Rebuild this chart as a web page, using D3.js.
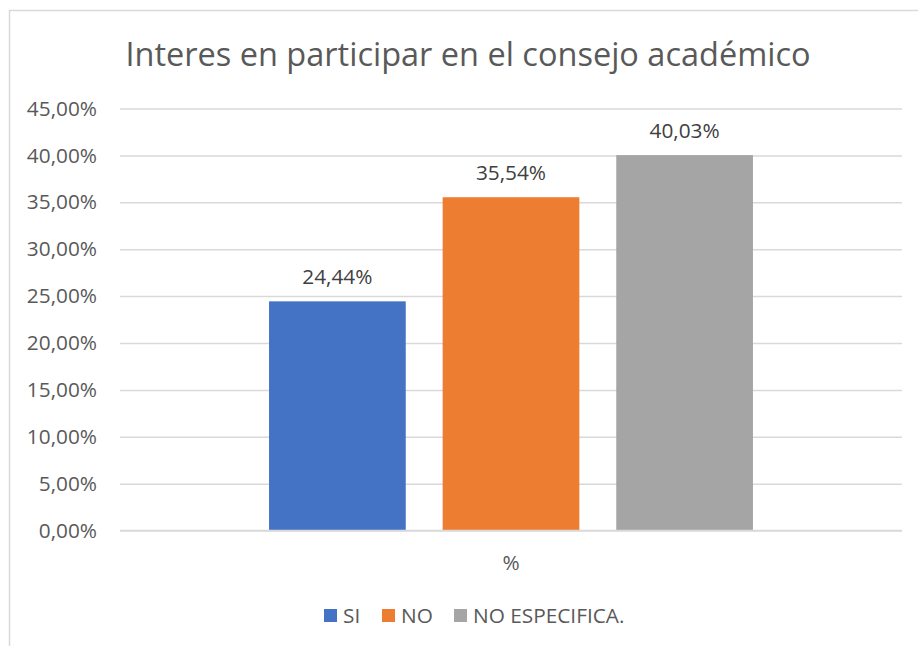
<!DOCTYPE html>
<html lang="es">
<head>
  <meta charset="UTF-8">
  <title>Interes en participar en el consejo académico</title>
  <script src="https://cdn.jsdelivr.net/npm/d3@7"></script>
  <style>
    body { margin: 0; background: #fff; }
    svg { display: block; font-family: "Open Sans", sans-serif; }
  </style>
</head>
<body>
  <div id="chart"></div>
  <script>
    // chart data
    const categories = ['%'];
    const seriesNames = ['SI', 'NO', 'NO ESPECIFICA.'];
    const seriesValues = [0.2444, 0.3554, 0.4003];
    const seriesColors = ['#4472c4', '#ed7d31', '#a5a5a5'];
    const yTicks = [0, 0.05, 0.10, 0.15, 0.20, 0.25, 0.30, 0.35, 0.40, 0.45];

    const width = 918, height = 646;
    const plot = { left: 120, right: 902, top: 108.5, bottom: 530.6 };

    const pct = d => d3.format('.2f')(d * 100).replace('.', ',') + '%';

    const svg = d3.select('#chart')
      .append('svg')
        .attr('width', width)
        .attr('height', height);

    // outer border
    svg.append('rect')
      .attr('x', 9.5).attr('y', 10.5)
      .attr('width', 940).attr('height', 660)
      .attr('fill', '#fff')
      .attr('stroke', '#d9d9d9')
      .attr('stroke-width', 1.5);

    // title
    svg.append('text')
      .attr('x', 468).attr('y', 66)
      .attr('text-anchor', 'middle')
      .attr('fill', '#595959')
      .style('font-size', '32.5px')
      .text('Interes en participar en el consejo académico');

    const y = d3.scaleLinear().domain([0, 0.45]).range([plot.bottom, plot.top]);

    const x0 = d3.scaleBand()
      .domain(categories)
      .range([plot.left, plot.right])
      .paddingInner(0)
      .paddingOuter(0.308);

    const x1 = d3.scaleBand()
      .domain(seriesNames)
      .range([0, x0.bandwidth()])
      .paddingInner(0.2126)
      .paddingOuter(0);

    // gridlines + y labels
    const yAxis = d3.axisLeft(y)
      .tickValues(yTicks)
      .tickFormat(pct)
      .tickSize(plot.right - plot.left)
      .tickPadding(23);

    const gy = svg.append('g')
      .attr('transform', `translate(${plot.right},0)`)
      .call(yAxis);
    gy.select('.domain').remove();
    gy.selectAll('.tick line')
      .attr('stroke', '#d9d9d9')
      .attr('stroke-width', 1.5);
    gy.selectAll('.tick text')
      .attr('fill', '#595959')
      .style('font-size', '20.8px')
      .style('font-family', '"Open Sans", sans-serif');

    // bars
    const rows = seriesNames.map((name, i) => ({ name, value: seriesValues[i], color: seriesColors[i], cat: categories[0] }));

    const g = svg.append('g');
    g.selectAll('rect')
      .data(rows)
      .enter()
      .append('rect')
        .attr('x', d => x0(d.cat) + x1(d.name))
        .attr('y', d => y(d.value))
        .attr('width', x1.bandwidth())
        .attr('height', d => y(0) - y(d.value))
        .attr('fill', d => d.color);

    // data labels
    g.selectAll('text.label')
      .data(rows)
      .enter()
      .append('text')
        .attr('class', 'label')
        .attr('x', d => x0(d.cat) + x1(d.name) + x1.bandwidth() / 2)
        .attr('y', d => y(d.value) - 17.5)
        .attr('text-anchor', 'middle')
        .attr('fill', '#404040')
        .style('font-size', '20.8px')
        .text(d => pct(d.value));

    // baseline
    svg.append('line')
      .attr('x1', plot.left).attr('x2', plot.right)
      .attr('y1', y(0)).attr('y2', y(0))
      .attr('stroke', '#d9d9d9')
      .attr('stroke-width', 1.5);

    // category label
    svg.selectAll('text.cat')
      .data(categories)
      .enter()
      .append('text')
        .attr('class', 'cat')
        .attr('x', d => x0(d) + x0.bandwidth() / 2)
        .attr('y', 570)
        .attr('text-anchor', 'middle')
        .attr('fill', '#595959')
        .style('font-size', '20.8px')
        .text(d => d);

    // legend
    const legendX = [324, 382, 454];
    const legend = svg.append('g')
      .selectAll('g')
      .data(rows)
      .enter()
      .append('g')
        .attr('transform', (d, i) => `translate(${legendX[i]},609)`);
    legend.append('rect')
      .attr('width', 13).attr('height', 13)
      .attr('fill', d => d.color);
    legend.append('text')
      .attr('x', 19).attr('y', 14)
      .attr('fill', '#595959')
      .style('font-size', '20.8px')
      .text(d => d.name);
  </script>
</body>
</html>
